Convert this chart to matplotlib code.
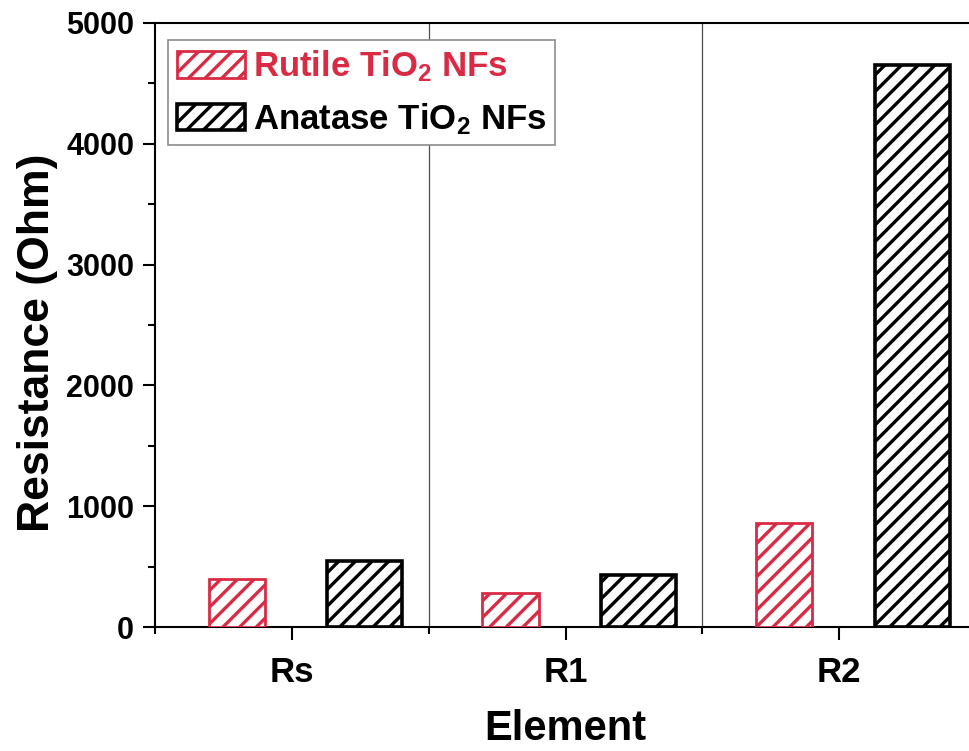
import numpy as np
import matplotlib as mpl
import matplotlib.pyplot as plt
from matplotlib.patches import Patch
from matplotlib.ticker import MultipleLocator, FixedLocator

RED = "#d92b44"
BLACK = "#000000"

elements = ["Rs", "R1", "R2"]
rutile = [400, 280, 860]
anatase = [550, 430, 4650]
series_labels = [r"Rutile TiO$_2$ NFs", r"Anatase TiO$_2$ NFs"]

mpl.rcParams.update({
    "font.family": ["Liberation Sans", "DejaVu Sans"],
    "font.weight": "bold",
    "mathtext.fontset": "custom",
    "mathtext.rm": "Liberation Sans:bold",
    "mathtext.bf": "Liberation Sans:bold",
    "mathtext.it": "Liberation Sans:bold",
    "hatch.linewidth": 2.4,
    "axes.linewidth": 1.5,
})

fig = plt.figure(figsize=(9.69, 7.51), dpi=100)
# the frame runs a little past the right edge of the canvas
ax = fig.add_axes([0.16, 0.1651, 0.8472, 0.8043])

x = np.arange(len(elements))
ax.bar(x - 0.201, rutile, width=0.205, facecolor="white", edgecolor=RED,
       hatch="//", linewidth=2.0, zorder=3)
ax.bar(x + 0.267, anatase, width=0.274, facecolor="white", edgecolor=BLACK,
       hatch="//", linewidth=2.6, zorder=3)

for sep in (0.5, 1.5):
    ax.axvline(sep, color="0.3", lw=0.9, zorder=1)

ax.set_xlim(-0.5, 2.5)
ax.set_ylim(0, 5000)
ax.spines["right"].set_visible(False)

ax.set_xticks(x)
ax.set_xticklabels(elements)
ax.xaxis.set_minor_locator(FixedLocator([-0.5, 0.5, 1.5, 2.5]))
ax.yaxis.set_major_locator(MultipleLocator(1000))
ax.yaxis.set_minor_locator(MultipleLocator(500))
ax.tick_params(axis="both", which="major", direction="out", length=9,
               width=1.5, labelsize=22, pad=6)
ax.tick_params(axis="both", which="minor", direction="out", length=5,
               width=1.5)
ax.tick_params(axis="x", which="major", labelsize=25, pad=12)

ax.set_xlabel("Element", fontsize=30, fontweight="bold", labelpad=14)
ax.set_ylabel("Resistance (Ohm)", fontsize=32, fontweight="bold", labelpad=6)
ax.yaxis.label.set_y(0.47)

handles = [
    Patch(facecolor="white", edgecolor=RED, hatch="//", linewidth=2.0),
    Patch(facecolor="white", edgecolor=BLACK, hatch="//", linewidth=2.6),
]
leg = ax.legend(handles, series_labels, loc="upper left",
                bbox_to_anchor=(0.016, 0.972), borderaxespad=0,
                prop={"size": 25, "weight": "bold"}, fancybox=False,
                frameon=True, edgecolor="0.55", framealpha=1,
                handlelength=1.95, handleheight=0.78, handletextpad=0.25,
                labelspacing=0.48, borderpad=0.25)
leg.get_frame().set_linewidth(1.2)
for txt, c in zip(leg.get_texts(), [RED, BLACK]):
    txt.set_color(c)

fig.savefig("out.png", dpi=100)
